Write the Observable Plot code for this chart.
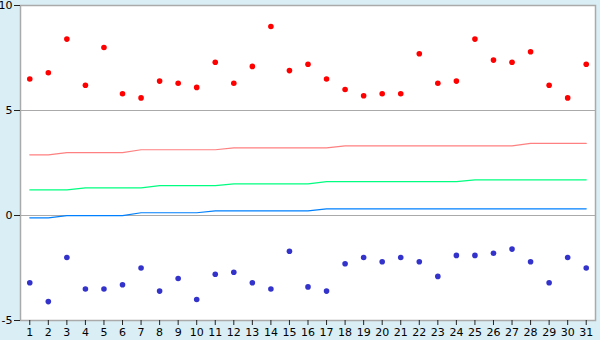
<!DOCTYPE html>
<html>
<head>
<meta charset="utf-8">
<script src="https://cdn.jsdelivr.net/npm/d3@7"></script>
<script src="https://cdn.jsdelivr.net/npm/@observablehq/plot@0.6"></script>
<style>
  html, body { margin: 0; padding: 0; background: #d9eef5; }
</style>
</head>
<body>
<div id="chart"></div>
<script>
const days = [1,2,3,4,5,6,7,8,9,10,11,12,13,14,15,16,17,18,19,20,21,22,23,24,25,26,27,28,29,30,31];
const yTicks = [-5, 0, 5, 10];

const redPoints = [6.5, 6.8, 8.4, 6.2, 8.0, 5.8, 5.6, 6.4, 6.3, 6.1, 7.3, 6.3, 7.1, 9.0, 6.9, 7.2,
                   6.5, 6.0, 5.7, 5.8, 5.8, 7.7, 6.3, 6.4, 8.4, 7.4, 7.3, 7.8, 6.2, 5.6, 7.2];
const bluePoints = [-3.2, -4.1, -2.0, -3.5, -3.5, -3.3, -2.5, -3.6, -3.0, -4.0, -2.8, -2.7, -3.2, -3.5, -1.7, -3.4,
                    -3.6, -2.3, -2.0, -2.2, -2.0, -2.2, -2.9, -1.9, -1.9, -1.8, -1.6, -2.2, -3.2, -2.0, -2.5];
const redLine = [2.89, 2.89, 2.99, 2.99, 2.99, 2.99, 3.13, 3.13, 3.13, 3.13, 3.13,
                 3.22, 3.22, 3.22, 3.22, 3.22, 3.22,
                 3.32, 3.32, 3.32, 3.32, 3.32, 3.32, 3.32, 3.32, 3.32, 3.32,
                 3.43, 3.43, 3.43, 3.43];
const greenLine = [1.22, 1.22, 1.22, 1.32, 1.32, 1.32, 1.32, 1.42, 1.42, 1.42, 1.42,
                   1.51, 1.51, 1.51, 1.51, 1.51,
                   1.61, 1.61, 1.61, 1.61, 1.61, 1.61, 1.61, 1.61,
                   1.70, 1.70, 1.70, 1.70, 1.70, 1.70, 1.70];
const blueLine = [-0.11, -0.11, -0.01, -0.01, -0.01, -0.01, 0.13, 0.13, 0.13, 0.13,
                  0.22, 0.22, 0.22, 0.22, 0.22, 0.22,
                  0.32, 0.32, 0.32, 0.32, 0.32, 0.32, 0.32, 0.32, 0.32, 0.32, 0.32, 0.32, 0.32, 0.32, 0.32];

const rows = days.map((d, i) => ({
  day: d, red: redPoints[i], blue: bluePoints[i],
  rl: redLine[i], gl: greenLine[i], bl: blueLine[i]
}));

const chart = Plot.plot({
  width: 600,
  height: 340,
  marginLeft: 20,
  marginRight: 5,
  marginTop: 5,
  marginBottom: 20,
  style: { background: "#d9eef5", fontFamily: "DejaVu Sans", fontSize: "11px", color: "black" },
  x: { type: "point", domain: days, padding: 0.5, round: false },
  y: { domain: [-5, 10] },
  marks: [
    Plot.frame({ fill: "white", stroke: null }),
    Plot.gridY(yTicks, { stroke: "#aaa", strokeOpacity: 1 }),
    Plot.frame({ stroke: "#aaa", strokeWidth: 1.5 }),
    Plot.axisX({ ticks: days, tickSize: 5, tickPadding: 3, label: null, stroke: "#222" }),
    Plot.axisY(yTicks, { tickSize: 6, tickPadding: 2, label: null, stroke: "#222", tickFormat: d => String(d) }),
    Plot.line(rows, { x: "day", y: "rl", stroke: "#ff8080", strokeWidth: 1.2 }),
    Plot.line(rows, { x: "day", y: "gl", stroke: "#00ff80", strokeWidth: 1.2 }),
    Plot.line(rows, { x: "day", y: "bl", stroke: "#0080ff", strokeWidth: 1.2 }),
    Plot.dot(rows, { x: "day", y: "red", fill: "#ff0000", r: 2.8, symbol: "circle" }),
    Plot.dot(rows, { x: "day", y: "blue", fill: "#3333cc", r: 2.8, symbol: "circle" })
  ]
});
document.getElementById("chart").appendChild(chart);
</script>
</body>
</html>
